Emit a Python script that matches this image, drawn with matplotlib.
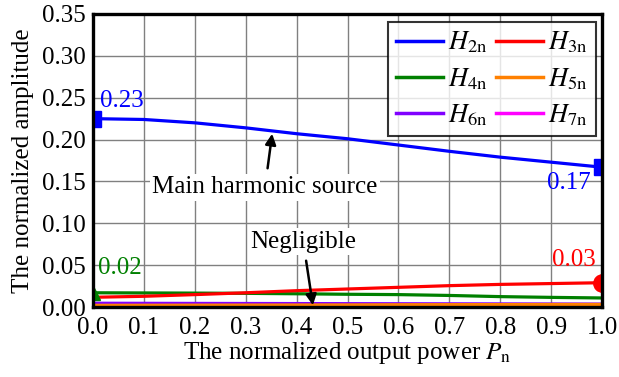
import numpy as np
import matplotlib.pyplot as plt
from matplotlib.lines import Line2D

plt.rcParams['font.family'] = 'Liberation Serif'
plt.rcParams['mathtext.fontset'] = 'stix'

# normalized output power
p = [0.0, 0.1, 0.2, 0.3, 0.4, 0.5, 0.6, 0.7, 0.8, 0.9, 1.0]

# normalized harmonic amplitudes
h2 = [0.225, 0.2240, 0.220, 0.214, 0.207, 0.201, 0.1935, 0.186, 0.179, 0.173, 0.167]
h3 = [0.0116, 0.0128, 0.0148, 0.017, 0.0195, 0.0215, 0.0235, 0.0255, 0.027, 0.028, 0.029]
h4 = [0.017, 0.0168, 0.0166, 0.0163, 0.0158, 0.0152, 0.0148, 0.0138, 0.0124, 0.0115, 0.0108]
h5 = [0.0020, 0.0021, 0.0022, 0.0023, 0.0024, 0.0025, 0.0027, 0.0028, 0.0029, 0.0030, 0.0031]
h6 = [0.0045, 0.0044, 0.0043, 0.0042, 0.0041, 0.0040, 0.0039, 0.0038, 0.0037, 0.0036, 0.0035]
h7 = [0.0012, 0.0012, 0.0013, 0.0013, 0.0014, 0.0014, 0.0015, 0.0015, 0.0016, 0.0016, 0.0017]

names = [r'$H_{\mathrm{2n}}$', r'$H_{\mathrm{3n}}$', r'$H_{\mathrm{4n}}$',
         r'$H_{\mathrm{5n}}$', r'$H_{\mathrm{6n}}$', r'$H_{\mathrm{7n}}$']
colors = ['#0000ff', '#ff0000', '#008000', '#ff8000', '#8000ff', '#ff00ff']

fig = plt.figure(figsize=(6.19, 3.77), dpi=100)
ax = fig.add_axes([93/619, 1-307/377, 509/619, 293/377])

series = [h2, h3, h4, h5, h6, h7]
for y, c in zip(series[::-1], colors[::-1]):
    ax.plot(p, y, color=c, lw=2.3, solid_capstyle='butt', zorder=3)

# end markers
ax.plot([p[0], p[-1]], [h2[0], h2[-1]], 's', color=colors[0], ms=11, zorder=4)
ax.plot(p[-1], h3[-1], 'o', color=colors[1], ms=12.5, zorder=4)
ax.plot(p[0], h4[0], '^', color=colors[2], ms=10, zorder=4)

fs = 18
ax.text(0.013, 0.246, '%.2f' % h2[0], color=colors[0], fontsize=fs, va='center', ha='left')
ax.text(0.978, 0.148, '%.2f' % h2[-1], color=colors[0], fontsize=fs, va='center', ha='right')
ax.text(0.010, 0.047, '%.2f' % h4[0], color=colors[2], fontsize=fs, va='center', ha='left')
ax.text(0.988, 0.056, '%.2f' % h3[-1], color=colors[1], fontsize=fs, va='center', ha='right')

ax.annotate('Main harmonic source', xy=(0.352, 0.207), xytext=(0.338, 0.143),
            fontsize=fs, ha='center', va='center',
            bbox=dict(boxstyle='square,pad=0.1', fc='white', ec='none'),
            arrowprops=dict(arrowstyle='-|>', color='black', lw=1.8, mutation_scale=16,
                            shrinkA=4, shrinkB=0), zorder=5)
ax.annotate('Negligible', xy=(0.432, 0.002), xytext=(0.413, 0.078),
            fontsize=fs, ha='center', va='center',
            bbox=dict(boxstyle='square,pad=0.1', fc='white', ec='none'),
            arrowprops=dict(arrowstyle='-|>', color='black', lw=1.8, mutation_scale=16,
                            shrinkA=4, shrinkB=0), zorder=5)

ax.set_xlim(0, 1.0)
ax.set_ylim(0, 0.35)
ax.set_xticks(np.arange(0, 1.01, 0.1))
ax.set_yticks(np.arange(0, 0.351, 0.05))
ax.set_xticklabels(['%.1f' % v for v in np.arange(0, 1.01, 0.1)])
ax.set_yticklabels(['%.2f' % v for v in np.arange(0, 0.351, 0.05)])
ax.tick_params(length=0, labelsize=fs)
ax.tick_params(axis='x', pad=7)
ax.tick_params(axis='y', pad=5)
ax.grid(True, color='#808080', lw=1.0)
ax.set_axisbelow(True)
for s in ax.spines.values():
    s.set_linewidth(2.4)
    s.set_zorder(6)

ax.set_xlabel(r'The normalized output power $P_{\mathrm{n}}$', fontsize=fs, labelpad=1)
ax.set_ylabel('The normalized amplitude', fontsize=fs, labelpad=6)

handles = [Line2D([], [], color=c, lw=2.5) for c in colors]
order = [0, 2, 4, 1, 3, 5]
leg = ax.legend([handles[i] for i in order], [names[i] for i in order], ncol=2,
                loc='upper right', fontsize=19, frameon=True, fancybox=False,
                edgecolor='black', handlelength=1.8, handletextpad=0.2,
                columnspacing=0.3, labelspacing=0.4, borderpad=0.3,
                borderaxespad=0, bbox_to_anchor=(0.988, 0.973))
leg.get_frame().set_linewidth(1.5)
leg.set_zorder(7)

fig.savefig('out.png', dpi=100)
